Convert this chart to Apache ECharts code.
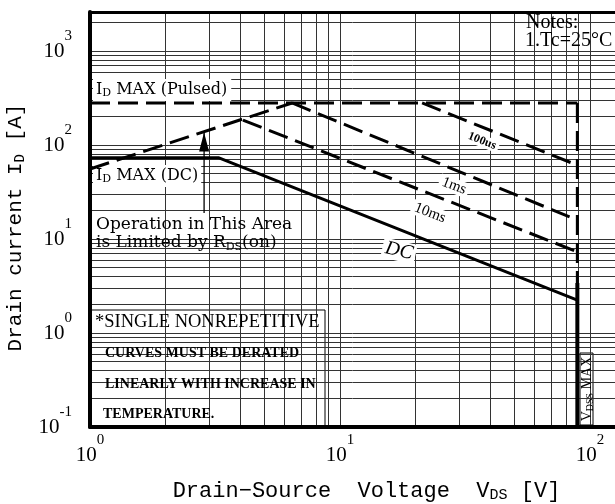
<!DOCTYPE html>
<html><head><meta charset="utf-8">
<script src="https://cdn.jsdelivr.net/npm/echarts@6/dist/echarts.min.js"></script>
<style>html,body{margin:0;padding:0;background:#fff}#c{width:615px;height:504px}</style>
</head><body><div id="c"></div>
<script>
// ---- data (V in volts, I in amps) ----
const idPulsedV = [1, 89];
const idPulsedI = [280, 280];
const rdsLimitV = [1, 6.43];
const rdsLimitI = [55.6, 280];
const t100usV = [21.3, 89];
const t100usI = [280, 61];
const t1msV = [6.43, 89];
const t1msI = [280, 15.9];
const t10msV = [4.09, 89];
const t10msI = [184, 7.3];
const dcV = [1, 3.28, 89];
const dcI = [73, 73, 2.24];
const vdssEdgeV = [89, 89];
const vdssEdgeI = [280, 3.4];
const vdssMaxV = [89, 89];
const vdssMaxI = [3.4, 0.1];
const arrowV = [2.86, 2.86];
const arrowI = [18.9, 134];

const X_MIN = 1, X_MAX = Math.pow(10, 2.1);
const Y_MIN = 0.1, Y_MAX = 2600;

function pairs(xs, ys) { return xs.map((x, i) => [x, ys[i]]); }
function logGrid(lo, hi) {
  const out = [];
  for (let e = -2; e <= 4; e++) {
    for (let k = 1; k <= 9; k++) {
      const v = k * Math.pow(10, e);
      if (v > lo * 1.0001 && v < hi * 0.9999) out.push(v);
    }
  }
  return out;
}
const gridX = logGrid(X_MIN, X_MAX);
const gridY = logGrid(Y_MIN, Y_MAX);

function powLabel(v) {
  const e = Math.log10(v);
  const r = Math.round(e);
  if (Math.abs(e - r) > 1e-6) return '';
  return '{b|10}{s|' + r + '}';
}
const labelRich = {
  b: {fontSize: 21, fontFamily: 'Liberation Serif', lineHeight: 44, color: '#000'},
  s: {fontSize: 15, fontFamily: 'Liberation Serif', lineHeight: 15, verticalAlign: 'top', color: '#000'}
};

const dashed = {color: '#000', width: 3, type: [20, 8]};
function lineSeries(name, xs, ys, style) {
  return {name: name, type: 'line', data: pairs(xs, ys), symbol: 'none', lineStyle: style,
          z: 10, silent: true, animation: false};
}

function txt(x, y, text, fam, size, extra) {
  return Object.assign({type: 'text', z: 6, x: x, y: y, silent: true,
    style: Object.assign({text: text, fontFamily: fam, fontSize: size, fill: '#000', align: 'left', verticalAlign: 'middle'}, extra || {})});
}
function box(x, y, w, h, stroke) {
  return {type: 'rect', z: 5, silent: true, shape: {x: x, y: y, width: w, height: h},
    style: {fill: '#fff', stroke: stroke ? '#000' : null, lineWidth: 1}};
}
function subRich(fam, size, subSize) {
  return {a: {fontSize: size, fontFamily: fam, lineHeight: size + 2},
          s: {fontSize: subSize, fontFamily: fam, lineHeight: size - 1, verticalAlign: 'bottom'}};
}

const chart = echarts.init(document.getElementById('c'), null, {renderer: 'canvas'});
chart.setOption({
  animation: false,
  backgroundColor: '#fff',
  textStyle: {fontFamily: 'Liberation Serif'},
  grid: {left: 90, right: 0, top: 12, bottom: 77, containLabel: false, outerBoundsMode: 'none'},
  xAxis: [{
    type: 'log', logBase: 10, min: X_MIN, max: X_MAX, position: 'bottom', z: 20,
    axisLine: {show: true, lineStyle: {color: '#000', width: 4}},
    axisTick: {show: false}, splitLine: {show: false}, minorSplitLine: {show: false},
    axisLabel: {margin: 6, formatter: powLabel, rich: labelRich, showMinLabel: true, showMaxLabel: true},
    name: '{n|Drain\u2212Source  Voltage  V}{s|DS}{n| [V]}',
    nameLocation: 'middle', nameGap: 52,
    nameTextStyle: {padding: [0, 0, 0, 28], rich: {
      n: {fontFamily: 'Liberation Mono', fontSize: 22, color: '#000', lineHeight: 24},
      s: {fontFamily: 'Liberation Mono', fontSize: 15, color: '#000', lineHeight: 20, verticalAlign: 'bottom'}}}
  }, {
    type: 'log', logBase: 10, min: X_MIN, max: X_MAX, position: 'top', z: 20,
    axisLine: {show: true, lineStyle: {color: '#000', width: 3}},
    axisTick: {show: false}, splitLine: {show: false}, axisLabel: {show: false}
  }],
  yAxis: {
    type: 'log', logBase: 10, min: Y_MIN, max: Y_MAX, z: 20,
    axisLine: {show: true, lineStyle: {color: '#000', width: 4}},
    axisTick: {show: false}, splitLine: {show: false}, minorSplitLine: {show: false},
    axisLabel: {margin: 18, formatter: powLabel, rich: labelRich},
    name: '{n|Drain current I}{s|D}{n| [A]}',
    nameLocation: 'middle', nameRotate: 90, nameGap: 46,
    nameTextStyle: {padding: [0, 16, 0, 0], rich: {
      n: {fontFamily: 'Liberation Mono', fontSize: 21, color: '#000', lineHeight: 24},
      s: {fontFamily: 'Liberation Mono', fontSize: 14, color: '#000', lineHeight: 20, verticalAlign: 'bottom'}}}
  },
  series: [
    {type: 'line', name: 'grid', data: [[X_MIN, Y_MIN]], symbol: 'none', lineStyle: {opacity: 0}, z: 1, silent: true,
     markLine: {silent: true, symbol: ['none', 'none'], label: {show: false}, animation: false,
       lineStyle: {color: '#333', width: 1, type: 'solid'},
       data: gridX.map(v => ({xAxis: v})).concat(gridY.map(v => ({yAxis: v})))}},
    lineSeries('ID MAX (Pulsed)', idPulsedV, idPulsedI, dashed),
    lineSeries('RDS(on) limit', rdsLimitV, rdsLimitI, dashed),
    lineSeries('100us', t100usV, t100usI, dashed),
    lineSeries('1ms', t1msV, t1msI, dashed),
    lineSeries('10ms', t10msV, t10msI, dashed),
    lineSeries('DC', dcV, dcI, {color: '#000', width: 3, type: 'solid'}),
    lineSeries('VDSS edge', vdssEdgeV, vdssEdgeI, dashed),
    lineSeries('VDSS MAX', vdssMaxV, vdssMaxI, {color: '#000', width: 4, type: 'solid'}),
    Object.assign(lineSeries('arrow', arrowV, arrowI, {color: '#000', width: 1.3, type: 'solid'}), {
      markPoint: {silent: true, animation: false, symbol: 'triangle', symbolSize: [10, 19], symbolOffset: [0, 9],
        itemStyle: {color: '#000'}, label: {show: false},
        data: [{coord: [arrowV[1], arrowI[1]]}]}
    })
  ],
  graphic: [
    txt(93, 90, '{a|I}{s|D}{a| MAX (Pulsed)}', 'DejaVu Serif', 16, {backgroundColor: '#fff', padding: [2, 4, 2, 3],
      rich: subRich('DejaVu Serif', 16, 11)}),
    txt(93, 176, '{a|I}{s|D}{a| MAX (DC)}', 'DejaVu Serif', 16, {backgroundColor: '#fff', padding: [2, 3, 2, 3],
      rich: subRich('DejaVu Serif', 16, 11)}),
    box(92, 212, 210, 41, false),
    txt(96, 225, 'Operation in This Area', 'DejaVu Serif', 17),
    txt(96, 243, '{a|is Limited by R}{s|DS}{a|(on)}', 'DejaVu Serif', 17, {rich: subRich('DejaVu Serif', 17, 11)}),
    box(91, 310, 234, 116, true),
    txt(95, 322, '*SINGLE NONREPETITIVE', 'Liberation Serif', 18.5),
    txt(105, 353, 'CURVES MUST BE DERATED', 'Liberation Serif', 14, {fontWeight: 'bold'}),
    txt(105, 384, 'LINEARLY WITH INCREASE IN', 'Liberation Serif', 14, {fontWeight: 'bold'}),
    txt(103, 414, 'TEMPERATURE.', 'Liberation Serif', 14, {fontWeight: 'bold'}),
    box(513, 14, 110, 34, false),
    txt(526, 23, 'Notes:', 'Liberation Serif', 20),
    txt(525, 41, '1.Tc=25°C', 'Liberation Serif', 20),
    box(580, 353, 13, 72, true),
    Object.assign(txt(587, 389, '{a|V}{s|DSS}{a| MAX}', 'Liberation Serif', 14, {align: 'center',
      rich: subRich('Liberation Serif', 14, 10)}), {rotation: Math.PI / 2}),
    Object.assign(txt(399, 251, 'DC', 'Liberation Serif', 20, {fontStyle: 'italic', align: 'center', backgroundColor: '#fff', padding: [0, 3]}), {rotation: -0.22}),
    Object.assign(txt(482, 141, '100us', 'Liberation Serif', 12, {fontWeight: 'bold', align: 'center', backgroundColor: '#fff', padding: [0, 3]}), {rotation: -0.37}),
    Object.assign(txt(454, 186, '1ms', 'Liberation Serif', 15, {align: 'center', backgroundColor: '#fff', padding: [0, 3]}), {rotation: -0.37}),
    Object.assign(txt(430, 213, '10ms', 'Liberation Serif', 15, {align: 'center', backgroundColor: '#fff', padding: [0, 3]}), {rotation: -0.37})
  ]
});
</script>
</body></html>
